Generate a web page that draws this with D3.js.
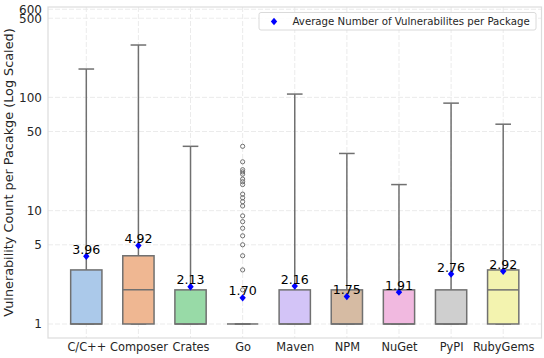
<!DOCTYPE html>
<html>
<head>
<meta charset="utf-8">
<script src="https://cdn.jsdelivr.net/npm/d3@7"></script>
<style>
  html, body { margin: 0; padding: 0; background: #fff; }
  svg { display: block; font-family: "DejaVu Sans", sans-serif; }
</style>
</head>
<body>
<svg id="chart" width="544" height="358"></svg>
<script>
const categories = ["C/C++", "Composer", "Crates", "Go", "Maven", "NPM", "NuGet", "PyPI", "RubyGems"];
const q1Values = [1, 1, 1, 1, 1, 1, 1, 1, 1];
const medianValues = [1, 2, 1, 1, 1, 1, 1, 1, 2];
const q3Values = [3, 4, 2, 1, 2, 2, 2, 2, 3];
const whiskerLow = [1, 1, 1, 1, 1, 1, 1, 1, 1];
const whiskerHigh = [178, 290, 37, 1, 107, 32, 17, 89, 58];
const meanValues = [3.96, 4.92, 2.13, 1.70, 2.16, 1.75, 1.91, 2.76, 2.92];
const goOutliers = [2, 3, 4, 5, 6, 7, 8, 9, 11, 12, 13, 14, 17, 18, 19, 21, 22, 23, 27, 37];
const yTickValues = [1, 5, 10, 50, 100, 500, 600];
const palette = ["#a1c9f4", "#ffb482", "#8de5a1", "#ff9f9b", "#d0bbff", "#debb9b", "#fab0e4", "#cfcfcf", "#fffea3"];
const legendLabel = "Average Number of Vulnerabilites per Package";
const yLabel = "Vulnerability Count per Pacakge (Log Scaled)";

const svg = d3.select("#chart");
const pLeft = 48, pRight = 541.5, pTop = 7, pBottom = 338;
const edge = "#707070";

const x = d3.scaleLinear().domain([-0.735, categories.length - 1 + 0.735]).range([pLeft, pRight]);
const step = x(1) - x(0);
const y = d3.scaleLog().domain([0.752, 628]).range([pBottom, pTop]);

// grid
const grid = svg.append("g");
grid.selectAll("line.h").data(yTickValues).join("line")
  .attr("x1", pLeft).attr("x2", pRight)
  .attr("y1", d => y(d)).attr("y2", d => y(d))
  .attr("stroke", "#e9e9e9").attr("stroke-width", 0.9).attr("stroke-dasharray", "5,2");
grid.selectAll("line.v").data(categories).join("line")
  .attr("x1", (d, i) => x(i)).attr("x2", (d, i) => x(i))
  .attr("y1", pTop).attr("y2", pBottom)
  .attr("stroke", "#e9e9e9").attr("stroke-width", 0.9).attr("stroke-dasharray", "5,2");

// frame
svg.append("rect").attr("x", pLeft).attr("y", pTop).attr("width", pRight - pLeft).attr("height", pBottom - pTop)
  .attr("fill", "none").attr("stroke", "#dcdcdc").attr("stroke-width", 1.2);

// y axis
const yAxis = d3.axisLeft(y).tickValues(yTickValues).tickFormat(d3.format("d")).tickSize(0).tickPadding(6);
const ya = svg.append("g").attr("transform", `translate(${pLeft},0)`).call(yAxis);
ya.select(".domain").remove();
ya.selectAll("text").attr("font-size", "12px").attr("fill", "#262626").attr("font-family", "DejaVu Sans");

// x axis
const xAxis = d3.axisBottom(x).tickValues(d3.range(categories.length)).tickFormat(i => categories[i]).tickSize(0).tickPadding(5);
const xa = svg.append("g").attr("transform", `translate(0,${pBottom})`).call(xAxis);
xa.select(".domain").remove();
xa.selectAll("text").attr("font-size", "11.4px").attr("fill", "#262626").attr("font-family", "DejaVu Sans");

// y label
svg.append("text").attr("transform", `translate(13,${(pTop + pBottom) / 2}) rotate(-90)`)
  .attr("text-anchor", "middle").attr("font-size", "12.8px").attr("fill", "#262626")
  .attr("font-family", "DejaVu Sans").text(yLabel);

// boxes
const boxW = 0.6 * step, capW = 0.3 * step;
const rows = categories.map((c, i) => ({ i, c, q1: q1Values[i], med: medianValues[i], q3: q3Values[i], lo: whiskerLow[i], hi: whiskerHigh[i], mean: meanValues[i] }));
const g = svg.append("g");
rows.forEach(r => {
  const cx = x(r.i);
  const col = d3.hsl(palette[r.i]); col.s *= 0.75;
  g.append("line").attr("x1", cx).attr("x2", cx).attr("y1", y(r.q3)).attr("y2", y(r.hi)).attr("stroke", edge).attr("stroke-width", 1.5);
  g.append("line").attr("x1", cx).attr("x2", cx).attr("y1", y(r.q1)).attr("y2", y(r.lo)).attr("stroke", edge).attr("stroke-width", 1.5);
  g.append("line").attr("x1", cx - capW / 2).attr("x2", cx + capW / 2).attr("y1", y(r.hi)).attr("y2", y(r.hi)).attr("stroke", edge).attr("stroke-width", 1.5);
  g.append("line").attr("x1", cx - capW / 2).attr("x2", cx + capW / 2).attr("y1", y(r.lo)).attr("y2", y(r.lo)).attr("stroke", edge).attr("stroke-width", 1.5);
  g.append("rect").attr("x", cx - boxW / 2).attr("y", y(r.q3)).attr("width", boxW).attr("height", Math.max(0, y(r.q1) - y(r.q3)))
    .attr("fill", col.formatHex()).attr("stroke", edge).attr("stroke-width", 1.5);
  g.append("line").attr("x1", cx - boxW / 2).attr("x2", cx + boxW / 2).attr("y1", y(r.med)).attr("y2", y(r.med)).attr("stroke", edge).attr("stroke-width", 1.5);
});

// Go outliers
const goIndex = categories.indexOf("Go");
g.selectAll("circle.out").data(goOutliers).join("circle")
  .attr("cx", x(goIndex)).attr("cy", d => y(d)).attr("r", 2.1)
  .attr("fill", "none").attr("stroke", edge).attr("stroke-width", 1);

// means
const diamond = (cx, cy) => `M${cx},${cy - 3.7}L${cx + 3.2},${cy}L${cx},${cy + 3.7}L${cx - 3.2},${cy}Z`;
rows.forEach(r => {
  g.append("path").attr("d", diamond(x(r.i), y(r.mean))).attr("fill", "#0000ff");
  g.append("text").attr("x", x(r.i)).attr("y", y(r.mean) - 2.5).attr("text-anchor", "middle")
    .attr("font-size", "12.6px").attr("fill", "#000").attr("font-family", "DejaVu Sans").text(r.mean.toFixed(2));
});

// legend
const lg = svg.append("g");
lg.append("rect").attr("x", 259).attr("y", 12.5).attr("width", 277).attr("height", 17.5).attr("rx", 2)
  .attr("fill", "#fff").attr("fill-opacity", 0.85).attr("stroke", "#d6d6d6").attr("stroke-width", 0.9);
lg.append("path").attr("d", diamond(274, 21.5)).attr("fill", "#0000ff");
lg.append("text").attr("x", 292.5).attr("y", 25).attr("font-size", "10.2px").attr("fill", "#262626")
  .attr("font-family", "DejaVu Sans").text(legendLabel);
</script>
</body>
</html>
